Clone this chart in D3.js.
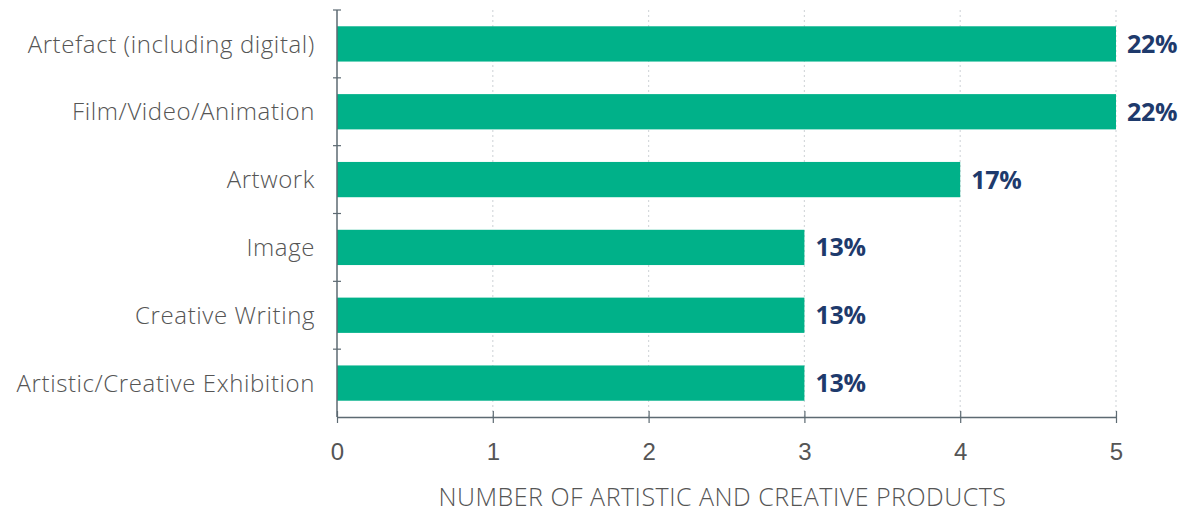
<!DOCTYPE html>
<html>
<head>
<meta charset="utf-8">
<script src="https://cdn.jsdelivr.net/npm/d3@7"></script>
<style>
  body { margin: 0; background: #fff; }
  svg { font-family: "Open Sans", Lato, sans-serif; }
</style>
</head>
<body>
<svg width="1185" height="514"></svg>
<script>
let categories = ["Artefact (including digital)", "Film/Video/Animation", "Artwork",
  "Image", "Creative Writing", "Artistic/Creative Exhibition"];
let counts = [5, 5, 4, 3, 3, 3];
let shares = ["22%", "22%", "17%", "13%", "13%", "13%"];
let xTicks = [0, 1, 2, 3, 4, 5];

let svg = d3.select("svg");
var padding = {t: 10, r: 69, b: 97, l: 337};
var chartWidth = +svg.attr("width") - padding.l - padding.r;
var chartHeight = +svg.attr("height") - padding.t - padding.b;

let data = categories.map((c, i) => ({name: c, value: counts[i], label: shares[i]}));

var x = d3.scaleLinear().domain([0, 5]).range([0, chartWidth]);
var y = d3.scaleBand().domain(categories).range([0, chartHeight]).paddingInner(0.48).paddingOuter(0.24);

let chartG = svg.append("g")
  .attr("transform", "translate(" + padding.l + "," + padding.t + ")");

// dotted grid
chartG.selectAll(".grid")
  .data(xTicks.slice(1))
  .join("line")
    .attr("x1", d => x(d)).attr("x2", d => x(d))
    .attr("y1", 0).attr("y2", chartHeight)
    .attr("stroke", "#d5d9dc")
    .attr("stroke-width", 1.2)
    .attr("stroke-dasharray", "2,3");

// bars
chartG.selectAll(".bar")
  .data(data)
  .join("rect")
    .attr("x", 0)
    .attr("y", d => y(d.name))
    .attr("width", d => x(d.value))
    .attr("height", y.bandwidth())
    .attr("fill", "#00b189");

// value labels
chartG.selectAll(".val")
  .data(data)
  .join("text")
    .attr("x", d => x(d.value) + 11)
    .attr("y", d => y(d.name) + y.bandwidth() / 2)
    .attr("dy", "0.36em")
    .attr("fill", "#1e3a6c")
    .attr("font-weight", "bold")
    .attr("font-size", 25)
    .attr("letter-spacing", -0.3)
    .text(d => d.label);

// x axis
let xAxis = chartG.append("g")
  .attr("transform", "translate(0," + chartHeight + ")")
  .call(d3.axisBottom(x).tickValues(xTicks).tickFormat(d3.format("d"))
    .tickSize(8).tickSizeOuter(0).tickPadding(18));
xAxis.select(".domain").attr("stroke", "#5d6a72").attr("stroke-width", 1.5);
xAxis.selectAll(".tick line").attr("stroke", "#5d6a72").attr("stroke-width", 1.2)
  .attr("y1", -6).attr("y2", 6);
xAxis.selectAll(".tick text").attr("fill", "#555").attr("font-size", 24).attr("font-weight", 300);

// y axis with ticks between bands
let yAxisG = chartG.append("g");
yAxisG.append("line")
  .attr("x1", 0).attr("x2", 0).attr("y1", 0).attr("y2", chartHeight)
  .attr("stroke", "#5d6a72").attr("stroke-width", 1.5);
let step = chartHeight / categories.length;
yAxisG.selectAll(".ytick")
  .data(d3.range(categories.length))
  .join("line")
    .attr("x1", -4).attr("x2", 4)
    .attr("y1", d => d * step).attr("y2", d => d * step)
    .attr("stroke", "#5d6a72").attr("stroke-width", 1.2);
yAxisG.selectAll(".ylab")
  .data(categories)
  .join("text")
    .attr("x", -22)
    .attr("y", d => y(d) + y.bandwidth() / 2)
    .attr("dy", "0.36em")
    .attr("text-anchor", "end")
    .attr("fill", "#555")
    .attr("font-size", 24)
    .attr("font-weight", 300)
    .attr("letter-spacing", 0.6)
    .text(d => d);

// axis title
svg.append("text")
  .attr("x", padding.l + chartWidth / 2 - 4)
  .attr("y", 506)
  .attr("text-anchor", "middle")
  .attr("fill", "#555")
  .attr("font-size", 25)
  .attr("font-weight", 300)
  .attr("letter-spacing", 0.5)
  .text("NUMBER OF ARTISTIC AND CREATIVE PRODUCTS");
</script>
</body>
</html>
